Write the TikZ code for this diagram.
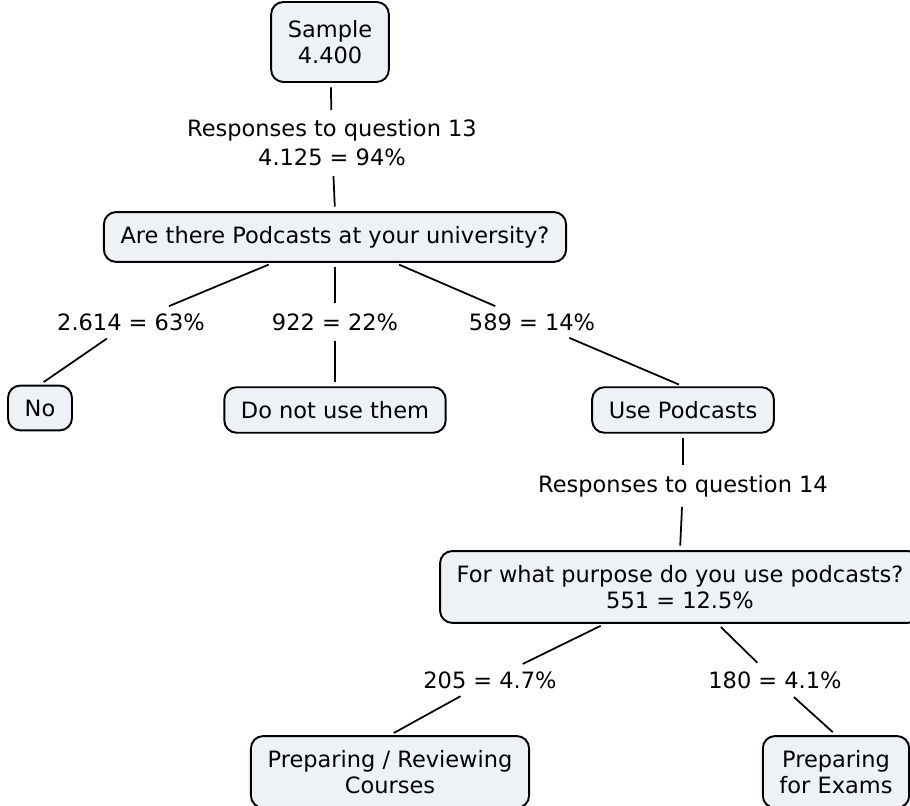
\documentclass[tikz,border=0pt]{standalone}
\usepackage{fontspec}
\setmainfont{DejaVu Sans}
\definecolor{conceptfill}{RGB}{238,241,246}
\tikzset{
  concept/.style={draw, line width=1.1pt, rounded corners=7pt, fill=conceptfill,
    align=center, inner xsep=9.5pt, inner ysep=8pt, font=\fontsize{12.8}{15}\selectfont},
  phrase/.style={align=center, inner sep=3pt, font=\fontsize{12.8}{16.5}\selectfont},
  link/.style={line width=1pt, shorten <=2.5pt, shorten >=2.5pt}
}
\begin{document}
\begin{tikzpicture}
\useasboundingbox (0,0) rectangle (18.2,16.12);
% draw concepts
\node[concept, minimum height=1.6cm] (sample) at (6.60,15.28) {Sample\\4.400};
\node[concept] (podcasts) at (6.70,11.38) {Are there Podcasts at your university?};
\node[concept] (no) at (0.80,7.96) {No};
\node[concept] (notuse) at (6.70,7.92) {Do not use them};
\node[concept] (use) at (13.66,7.92) {Use Podcasts};
\node[concept] (purpose) at (13.60,4.38) {For what purpose do you use podcasts?\\551 = 12.5\%};
\node[concept] (courses) at (7.80,0.68) {Preparing / Reviewing\\Courses};
\node[concept] (exams) at (16.72,0.68) {Preparing\\for Exams};
% draw linking phrases
\node[phrase] (q13) at (6.64,13.26) {Responses to question 13\\4.125 = 94\%};
\node[phrase] (pno) at (2.62,9.68) {2.614 = 63\%};
\node[phrase] (pnotuse) at (6.70,9.68) {922 = 22\%};
\node[phrase] (puse) at (10.64,9.68) {589 = 14\%};
\node[phrase] (q14) at (13.66,6.40) {Responses to question 14};
\node[phrase] (pcourses) at (9.80,2.52) {205 = 4.7\%};
\node[phrase] (pexams) at (15.50,2.52) {180 = 4.1\%};
% draw connectors concept -> phrase
\foreach \a/\b in {sample/q13, podcasts/pno, podcasts/pnotuse, podcasts/puse,
  use/q14, purpose/pcourses, purpose/pexams}
\draw[link] (\a) -- (\b);
% draw connectors phrase -> concept
\foreach \a/\b in {q13/podcasts, pno/no, pnotuse/notuse, puse/use,
  q14/purpose, pcourses/courses, pexams/exams}
\draw[link] (\a) -- (\b.north);
\end{tikzpicture}
\end{document}
